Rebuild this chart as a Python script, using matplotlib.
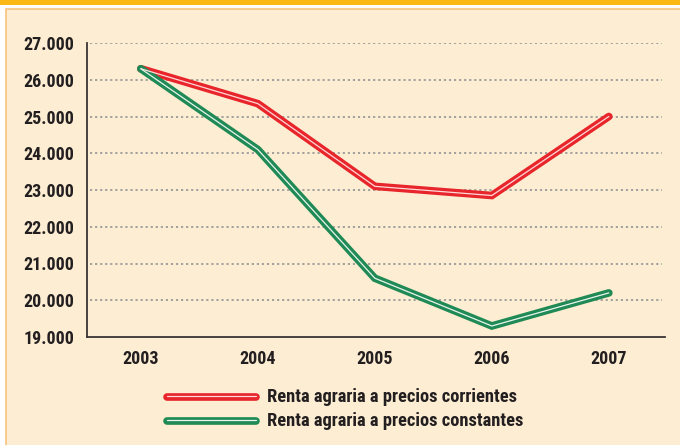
import matplotlib
matplotlib.use("Agg")
import matplotlib.pyplot as plt
from matplotlib.patches import Rectangle
from matplotlib.lines import Line2D
from matplotlib import font_manager

years = [2003, 2004, 2005, 2006, 2007]
corrientes = [26.30, 25.35, 23.10, 22.85, 25.00]
constantes = [26.30, 24.10, 20.60, 19.30, 20.20]
yticks = [19, 20, 21, 22, 23, 24, 25, 26, 27]
ytick_labels = ["19.000", "20.000", "21.000", "22.000", "23.000", "24.000", "25.000", "26.000", "27.000"]
series_names = ["Renta agraria a precios corrientes", "Renta agraria a precios constantes"]

names = {f.name for f in font_manager.fontManager.ttflist}
FONT = [f for f in ["Liberation Sans Narrow", "Roboto Condensed", "Roboto", "Liberation Sans"] if f in names] + ["DejaVu Sans"]
TXT = "#231F20"
RED = "#E8252B"
GREEN = "#1F8A55"
BG = "#FDEED3"

W, H = 680, 445
fig = plt.figure(figsize=(W / 100, H / 100), dpi=100)
fig.patch.set_facecolor("white")

def fx(px):
    return px / W

def fy(py):
    return 1 - py / H

fig.patches.append(Rectangle((fx(6), fy(H + 2)), fx(W + 10) - fx(6), fy(9) - fy(H + 2),
                             transform=fig.transFigure, facecolor=BG, edgecolor="#F8C27E",
                             linewidth=1.2, zorder=-2))
fig.patches.append(Rectangle((0, fy(4.5)), 1, 4.5 / H, transform=fig.transFigure,
                             facecolor="#FDB913", edgecolor="none", zorder=-1))

ax = fig.add_axes([fx(87), fy(337), fx(665) - fx(87), fy(43) - fy(337)])
ax.set_zorder(2)
ax.set_facecolor("none")

ax.set_ylim(19, 27)
ax.set_xlim(2003 - 0.46, 2007 + 0.48)

for y in yticks[1:]:
    ax.axhline(y, color="#9A9A9A", lw=1.3, ls=(0, (1.2, 1.6)), xmin=0.005, xmax=0.995, zorder=1)

def draw(vals, color, light):
    ax.plot(years, vals, color=color, lw=5.5, solid_capstyle="round", solid_joinstyle="miter", zorder=3)
    ax.plot(years, vals, color=light, lw=0.9, solid_capstyle="round", solid_joinstyle="miter", zorder=4)

draw(corrientes, RED, "#FFD8D8")
draw(constantes, GREEN, "#E9F5EE")

for s in ["top", "right"]:
    ax.spines[s].set_visible(False)
for s in ["left", "bottom"]:
    ax.spines[s].set_color("#3A3535")
    ax.spines[s].set_linewidth(1.3)

ax.set_yticks(yticks)
ax.set_yticklabels(ytick_labels)
ax.set_xticks(years)
ax.set_xticklabels([str(y) for y in years])
ax.tick_params(length=0, pad=9, labelsize=13, labelcolor=TXT)
for lab in ax.get_yticklabels() + ax.get_xticklabels():
    lab.set_family(FONT)
    lab.set_fontweight("bold")
ax.tick_params(axis="x", pad=9)

for i, (name, c, light) in enumerate([(series_names[0], RED, "#FFD8D8"),
                                      (series_names[1], GREEN, "#E9F5EE")]):
    py = 397 + i * 24
    fig.lines.append(Line2D([fx(167), fx(256)], [fy(py), fy(py)], transform=fig.transFigure,
                            color=c, lw=5.5, solid_capstyle="round", zorder=5))
    fig.lines.append(Line2D([fx(167), fx(256)], [fy(py - 1), fy(py - 1)], transform=fig.transFigure,
                            color=light, lw=0.9, solid_capstyle="round", zorder=6))
    fig.text(fx(267), fy(py), name, family=FONT, fontweight="bold", fontsize=13.3,
             color=TXT, va="center", ha="left")

fig.savefig("out.png", dpi=100, facecolor=fig.get_facecolor())
